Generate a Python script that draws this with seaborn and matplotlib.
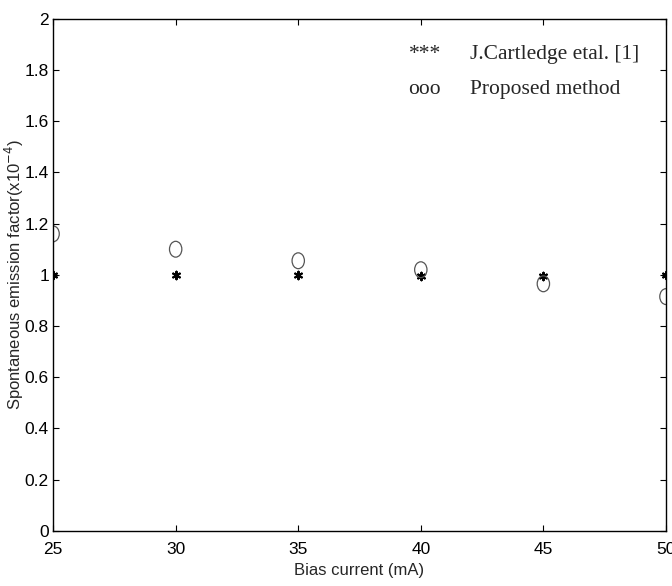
import matplotlib
matplotlib.use("Agg")
import matplotlib.pyplot as plt
from matplotlib.path import Path
from matplotlib.transforms import Affine2D
import seaborn as sns
import pandas as pd

bias_current = [25, 30, 35, 40, 45, 50]
cartledge = [1.0, 1.0, 1.0, 0.995, 0.995, 1.0]
proposed = [1.16, 1.10, 1.055, 1.02, 0.965, 0.915]
x_ticks = [25, 30, 35, 40, 45, 50]
y_ticks = [0, 0.2, 0.4, 0.6, 0.8, 1, 1.2, 1.4, 1.6, 1.8, 2]
y_tick_labels = ["0", "0.2", "0.4", "0.6", "0.8", "1", "1.2", "1.4", "1.6", "1.8", "2"]

sns.set_style("white")
plt.rcParams["font.family"] = ["Liberation Sans", "DejaVu Sans"]

df = pd.DataFrame({"x": bias_current, "cart": cartledge, "prop": proposed})

ellipse = Path.unit_circle().transformed(Affine2D().scale(0.78, 1.0))

fig = plt.figure(figsize=(6.72, 5.86), dpi=100)
ax = fig.add_axes([0.079, 0.094, 0.912, 0.874])

sns.scatterplot(data=df, x="x", y="cart", ax=ax, marker=(6, 2, 0), s=30,
                color="black", linewidth=1.5, legend=False)
sns.scatterplot(data=df, x="x", y="prop", ax=ax, marker=ellipse, s=130,
                facecolor="none", edgecolor="#555555", linewidth=0.9, legend=False)

ax.set_xlim(25, 50)
ax.set_ylim(0, 2)
ax.set_xticks(x_ticks)
ax.set_yticks(y_ticks)
ax.set_yticklabels(y_tick_labels)
ax.tick_params(axis="both", direction="in", length=4, width=0.8, labelsize=12.5, colors="black",
               top=True, right=True, bottom=True, left=True)
ax.tick_params(axis="x", pad=8)
ax.tick_params(axis="y", pad=3)
for sp in ax.spines.values():
    sp.set_color("black")
    sp.set_linewidth(1.0)

ax.set_xlabel("Bias current (mA)", fontsize=12, labelpad=4)
ax.set_ylabel("Spontaneous emission factor(x10$^{-4}$)", fontsize=12, labelpad=-1)

serif = ["Liberation Serif", "DejaVu Serif"]
ax.text(0.58, 0.93, "***", transform=ax.transAxes, fontsize=15.5, family=serif, va="center")
ax.text(0.68, 0.93, "J.Cartledge etal. [1]", transform=ax.transAxes, fontsize=15.5, family=serif, va="center")
ax.text(0.58, 0.861, "ooo", transform=ax.transAxes, fontsize=15.5, family=serif, va="center")
ax.text(0.68, 0.861, "Proposed method", transform=ax.transAxes, fontsize=15.5, family=serif, va="center")

fig.savefig("out.png", dpi=100, facecolor="white")
